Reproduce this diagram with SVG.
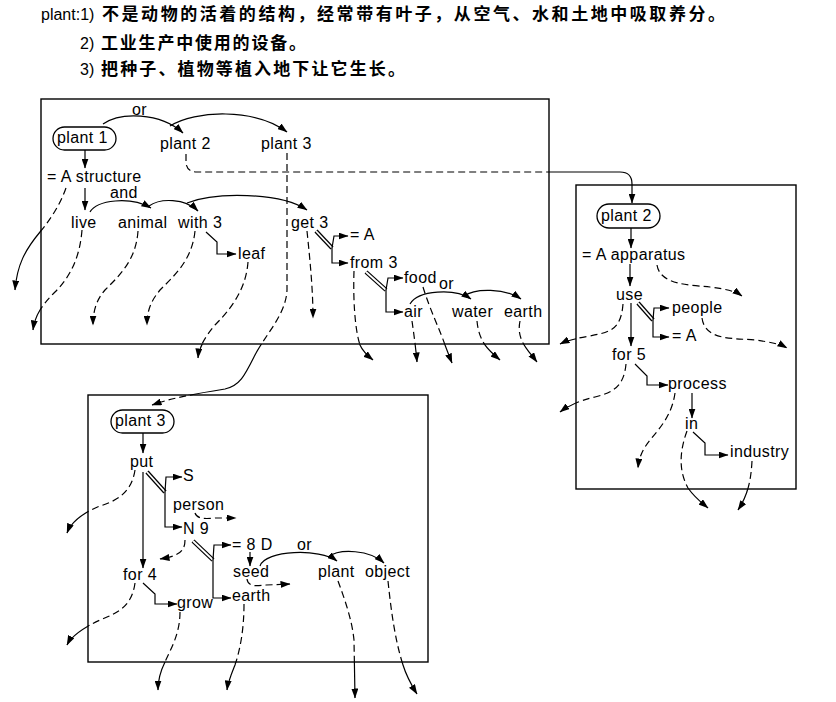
<svg xmlns="http://www.w3.org/2000/svg" xmlns:xlink="http://www.w3.org/1999/xlink" width="836" height="702" viewBox="0 0 836 702">
  <style>
    text { fill: #000; }
    .lbl { font-family: "Liberation Sans", Arial, sans-serif; font-size: 16px; letter-spacing: 0.4px; }
    .head { font-family: "Liberation Sans", Arial, sans-serif; font-size: 16px; }
    .cjk { font-family: "Noto Sans CJK SC", "Noto Sans CJK JP", sans-serif; font-size: 17px; font-weight: bold; }
    .frame { fill: none; stroke: #000; stroke-width: 1.4; }
    .oval { fill: #fff; stroke: #000; stroke-width: 1.3; }
    .ln { fill: none; stroke: #000; stroke-width: 1.2; }
    .arr { marker-end: url(#ah); }
    .dash { stroke-dasharray: 7 4; }
    .dblOuter { fill: none; stroke: #000; stroke-width: 4.2; }
    .dblInner { fill: none; stroke: #fff; stroke-width: 1.8; }
  </style>
  <defs>
    <marker id="ah" viewBox="0 0 10 7" markerWidth="10" markerHeight="7" refX="9.5" refY="3.5" orient="auto" markerUnits="userSpaceOnUse">
      <path d="M0,0 L10,3.5 L0,7 Z" fill="#000"/>
    </marker>
    <!-- interior of the three frames, and everything outside them -->
    <clipPath id="inside">
      <rect x="41" y="99" width="508" height="245"/>
      <rect x="576" y="185" width="220" height="304"/>
      <rect x="88" y="395" width="340" height="267"/>
    </clipPath>
    <clipPath id="outside">
      <path clip-rule="evenodd" d="M0,0H836V702H0Z M41,99H549V344H41Z M576,185H796V489H576Z M88,395H428V662H88Z"/>
    </clipPath>
    <!-- reference links: dashed inside a frame, solid outside -->
    <path id="r-struct" d="M66,188 C60,205 50,220 40,232 C25,250 17,265 15,290"/>
    <path id="r-live" d="M82,230 C80,255 72,275 55,292 C42,305 35,315 33,330"/>
    <path id="r-animal" d="M138,231 C136,260 120,275 105,290 C96,300 93,312 93,325"/>
    <path id="r-with" d="M195,231 C192,260 175,275 160,290 C150,302 147,312 147,325"/>
    <path id="r-leaf" d="M248,262 C246,290 230,310 215,325 C205,337 199,347 198,358"/>
    <path id="r-get" d="M307,231 C310,260 313,290 313,318"/>
    <path id="r-from" d="M354,271 C353,300 355,330 360,345 C363,352 368,356 373,360"/>
    <path id="r-air" d="M412,321 C414,335 416,350 417,362"/>
    <path id="r-food" d="M423,287 C430,310 440,330 445,345 C448,353 450,358 452,363"/>
    <path id="r-water" d="M477,321 C479,342 488,350 500,360"/>
    <path id="r-earth1" d="M520,321 C516,340 528,350 537,362"/>
    <path id="r-plant3" d="M287,153 L287,290 C286,315 265,335 255,355 C245,375 240,386 225,389 C200,393 175,397 152,405"/>
    <path id="r-app" d="M657,265 C660,285 690,285 710,287 C725,289 735,291 742,296"/>
    <path id="r-people" d="M702,318 C705,340 730,338 755,340 C770,342 780,344 787,348"/>
    <path id="r-use" d="M623,304 C621,330 610,332 590,336 C578,338 568,340 560,344"/>
    <path id="r-for5" d="M626,364 C624,385 615,392 595,397 C578,401 568,406 560,412"/>
    <path id="r-process" d="M675,393 C672,415 660,428 650,440 C642,450 639,458 638,468"/>
    <path id="r-in" d="M687,431 C680,450 678,470 688,488 C695,498 702,503 708,508"/>
    <path id="r-industry" d="M752,461 C751,480 748,495 738,510"/>
    <path id="r-put" d="M135,470 C132,490 120,500 100,506 C85,512 72,520 67,533"/>
    <path id="r-person" d="M195,513 C197,519 205,519 215,518 L236,518"/>
    <path id="r-n9" d="M185,540 C185,552 178,556 160,559"/>
    <path id="r-for4" d="M135,583 C132,605 120,612 100,620 C85,627 72,635 67,645"/>
    <path id="r-grow" d="M180,612 C180,635 170,650 165,662 C160,672 158,680 158,690"/>
    <path id="r-earth2" d="M244,604 C244,630 240,650 235,665 C231,675 228,682 227,690"/>
    <path id="r-seed" d="M247,579 C248,587 256,586 266,585 L290,584"/>
    <path id="r-plant" d="M338,581 C345,600 352,620 354,640 L355,698"/>
    <path id="r-object" d="M388,581 C391,610 395,640 403,665 C407,678 412,686 417,694"/>
    <!-- double-stroke stems -->
    <path id="d-get" d="M316,231 L332,248"/>
    <path id="d-from" d="M366,272 L386,290"/>
    <path id="d-use" d="M638,303 L653,320"/>
    <path id="d-put" d="M147,472 L165,492"/>
    <path id="d-n9" d="M193,541 L213,560"/>
  </defs>

  <!-- heading: the three senses -->
  <g id="heading">
    <text class="head" x="41" y="20">plant:1)<tspan class="cjk" x="102" textLength="623" lengthAdjust="spacing">不是动物的活着的结构，经常带有叶子，从空气、水和土地中吸取养分。</tspan></text>
    <text class="head" x="80" y="49">2)<tspan class="cjk" x="101" textLength="205" lengthAdjust="spacing">工业生产中使用的设备。</tspan></text>
    <text class="head" x="80" y="75">3)<tspan class="cjk" x="101" textLength="304" lengthAdjust="spacing">把种子、植物等植入地下让它生长。</tspan></text>
  </g>

  <!-- frames -->
  <g id="frames">
    <rect id="frame-1" class="frame" x="41" y="99" width="508" height="245"/>
    <rect id="frame-2" class="frame" x="576" y="185" width="220" height="304"/>
    <rect id="frame-3" class="frame" x="88" y="395" width="340" height="267"/>
  </g>

  <g id="connectors">
    <!-- reference links, dashed part -->
    <g class="ln dash arr" clip-path="url(#inside)">
      <use xlink:href="#r-struct"/><use xlink:href="#r-live"/><use xlink:href="#r-animal"/>
      <use xlink:href="#r-with"/><use xlink:href="#r-leaf"/><use xlink:href="#r-get"/>
      <use xlink:href="#r-from"/><use xlink:href="#r-air"/><use xlink:href="#r-food"/>
      <use xlink:href="#r-water"/><use xlink:href="#r-earth1"/><use xlink:href="#r-plant3"/>
      <use xlink:href="#r-app"/><use xlink:href="#r-people"/><use xlink:href="#r-use"/>
      <use xlink:href="#r-for5"/><use xlink:href="#r-process"/><use xlink:href="#r-in"/>
      <use xlink:href="#r-industry"/><use xlink:href="#r-put"/><use xlink:href="#r-person"/>
      <use xlink:href="#r-n9"/><use xlink:href="#r-for4"/><use xlink:href="#r-grow"/>
      <use xlink:href="#r-earth2"/><use xlink:href="#r-seed"/><use xlink:href="#r-plant"/>
      <use xlink:href="#r-object"/>
    </g>
    <!-- reference links, solid part outside the frames -->
    <g class="ln arr" clip-path="url(#outside)">
      <use xlink:href="#r-struct"/><use xlink:href="#r-live"/><use xlink:href="#r-animal"/>
      <use xlink:href="#r-with"/><use xlink:href="#r-leaf"/><use xlink:href="#r-get"/>
      <use xlink:href="#r-from"/><use xlink:href="#r-air"/><use xlink:href="#r-food"/>
      <use xlink:href="#r-water"/><use xlink:href="#r-earth1"/><use xlink:href="#r-plant3"/>
      <use xlink:href="#r-app"/><use xlink:href="#r-people"/><use xlink:href="#r-use"/>
      <use xlink:href="#r-for5"/><use xlink:href="#r-process"/><use xlink:href="#r-in"/>
      <use xlink:href="#r-industry"/><use xlink:href="#r-put"/><use xlink:href="#r-person"/>
      <use xlink:href="#r-n9"/><use xlink:href="#r-for4"/><use xlink:href="#r-grow"/>
      <use xlink:href="#r-earth2"/><use xlink:href="#r-seed"/><use xlink:href="#r-plant"/>
      <use xlink:href="#r-object"/>
    </g>
    <!-- plant 2 link into the second frame -->
    <path class="ln dash" d="M186,154 L186,163 Q187,172 197,172 L549,172"/>
    <path class="ln arr" d="M549,172 L620,172 Q632,172 632,184 L632,203"/>

    <!-- double stems -->
    <g class="dblOuter">
      <use xlink:href="#d-get"/><use xlink:href="#d-from"/><use xlink:href="#d-use"/>
      <use xlink:href="#d-put"/><use xlink:href="#d-n9"/>
    </g>
    <g class="dblInner">
      <use xlink:href="#d-get"/><use xlink:href="#d-from"/><use xlink:href="#d-use"/>
      <use xlink:href="#d-put"/><use xlink:href="#d-n9"/>
    </g>

    <!-- solid links, frame 1 -->
    <g class="ln arr">
      <path d="M103,124 C120,112 160,112 183,133"/>
      <path d="M170,126 C195,110 255,108 287,132"/>
      <path d="M85,150 L85,168"/>
      <path d="M85,188 L85,210"/>
      <path d="M90,212 C97,200 130,196 151,208"/>
      <path d="M149,206 C160,198 185,198 198,211"/>
      <path d="M187,203 C215,192 280,192 307,210"/>
      <path d="M206,232 L217,242 L217,254 L236,254"/>
      <path d="M332,248 L334,236 L348,236"/>
      <path d="M332,248 L332,263 L348,263"/>
      <path d="M386,290 L388,278 L403,278"/>
      <path d="M386,290 L386,312 L403,312"/>
      <path d="M410,304 C418,290 455,288 471,299"/>
      <path d="M464,296 C475,288 505,288 521,299"/>
    </g>
    <!-- solid links, frame 2 -->
    <g class="ln arr">
      <path d="M631,228 L631,248"/>
      <path d="M630,264 L630,286"/>
      <path d="M631,303 L631,346"/>
      <path d="M653,320 L654,308 L669,308"/>
      <path d="M653,320 L653,337 L669,337"/>
      <path d="M635,364 L647,376 L647,385 L668,385"/>
      <path d="M692,393 L692,418"/>
      <path d="M693,432 L705,443 L705,455 L728,455"/>
    </g>
    <!-- solid links, frame 3 -->
    <g class="ln arr">
      <path d="M143,433 L143,453"/>
      <path d="M143,472 L143,568"/>
      <path d="M165,492 L166,477 L182,477"/>
      <path d="M165,492 L165,527 L182,527"/>
      <path d="M213,560 L214,545 L231,545"/>
      <path d="M213,560 L213,598 L231,598"/>
      <path d="M143,583 L155,594 L155,604 L177,604"/>
      <path d="M250,552 L250,566"/>
      <path d="M260,566 C265,550 320,548 337,561"/>
      <path d="M328,557 C340,548 370,550 384,563"/>
    </g>

    <!-- link labels -->
    <text class="lbl" x="132" y="115">or</text>
    <text class="lbl" x="110" y="198">and</text>
    <text class="lbl" x="439" y="289">or</text>
    <text class="lbl" x="297" y="550">or</text>
  </g>

  <!-- frame 1 nodes -->
  <g id="b1-plant1"><rect class="oval" x="53" y="127" width="63" height="23" rx="11.5"/><text class="lbl" x="57" y="143">plant 1</text></g>
  <g id="b1-plant2"><text class="lbl" x="160" y="149">plant 2</text></g>
  <g id="b1-plant3"><text class="lbl" x="261" y="149">plant 3</text></g>
  <g id="b1-structure"><text class="lbl" x="47" y="182">= A structure</text></g>
  <g id="b1-live"><text class="lbl" x="71" y="228">live</text></g>
  <g id="b1-animal"><text class="lbl" x="118" y="228">animal</text></g>
  <g id="b1-with3"><text class="lbl" x="178" y="228">with 3</text></g>
  <g id="b1-get3"><text class="lbl" x="291" y="228">get 3</text></g>
  <g id="b1-leaf"><text class="lbl" x="238" y="259">leaf</text></g>
  <g id="b1-eqA"><text class="lbl" x="350" y="240">= A</text></g>
  <g id="b1-from3"><text class="lbl" x="350" y="268">from 3</text></g>
  <g id="b1-food"><text class="lbl" x="404" y="283">food</text></g>
  <g id="b1-air"><text class="lbl" x="404" y="317">air</text></g>
  <g id="b1-water"><text class="lbl" x="452" y="317">water</text></g>
  <g id="b1-earth"><text class="lbl" x="504" y="317">earth</text></g>

  <!-- frame 2 nodes -->
  <g id="b2-plant2"><rect class="oval" x="597" y="204" width="63" height="24" rx="12"/><text class="lbl" x="601" y="221">plant 2</text></g>
  <g id="b2-apparatus"><text class="lbl" x="582" y="260">= A apparatus</text></g>
  <g id="b2-use"><text class="lbl" x="616" y="300">use</text></g>
  <g id="b2-people"><text class="lbl" x="672" y="313">people</text></g>
  <g id="b2-eqA"><text class="lbl" x="672" y="341">= A</text></g>
  <g id="b2-for5"><text class="lbl" x="612" y="360">for 5</text></g>
  <g id="b2-process"><text class="lbl" x="668" y="389">process</text></g>
  <g id="b2-in"><text class="lbl" x="685" y="429">in</text></g>
  <g id="b2-industry"><text class="lbl" x="730" y="457">industry</text></g>

  <!-- frame 3 nodes -->
  <g id="b3-plant3"><rect class="oval" x="111" y="410" width="63" height="23" rx="11.5"/><text class="lbl" x="115" y="426">plant 3</text></g>
  <g id="b3-put"><text class="lbl" x="130" y="467">put</text></g>
  <g id="b3-S"><text class="lbl" x="183" y="481">S</text></g>
  <g id="b3-person"><text class="lbl" x="173" y="510">person</text></g>
  <g id="b3-N9"><text class="lbl" x="183" y="534">N 9</text></g>
  <g id="b3-8D"><text class="lbl" x="232" y="550">= 8 D</text></g>
  <g id="b3-seed"><text class="lbl" x="233" y="577">seed</text></g>
  <g id="b3-plant"><text class="lbl" x="318" y="577">plant</text></g>
  <g id="b3-object"><text class="lbl" x="365" y="577">object</text></g>
  <g id="b3-for4"><text class="lbl" x="123" y="580">for 4</text></g>
  <g id="b3-grow"><text class="lbl" x="177" y="608">grow</text></g>
  <g id="b3-earth"><text class="lbl" x="232" y="601">earth</text></g>
</svg>
